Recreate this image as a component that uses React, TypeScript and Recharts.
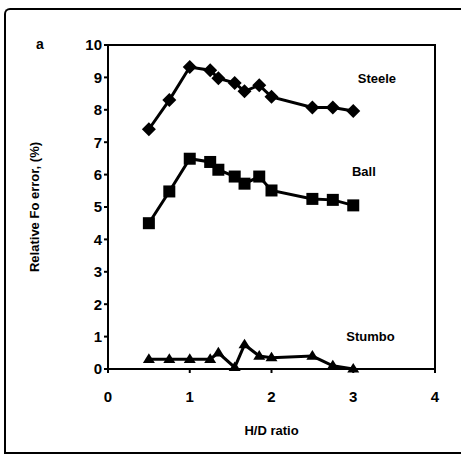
import React from "react";
import {
  LineChart,
  Line,
  XAxis,
  YAxis,
  ReferenceDot,
  ReferenceArea,
} from "recharts";

const hdRatio = [0.5, 0.75, 1.0, 1.25, 1.35, 1.55, 1.67, 1.85, 2.0, 2.5, 2.75, 3.0];
const steele = [7.4, 8.3, 9.32, 9.22, 8.97, 8.83, 8.57, 8.76, 8.4, 8.07, 8.07, 7.96];
const ball = [4.5, 5.48, 6.49, 6.39, 6.15, 5.94, 5.72, 5.94, 5.51, 5.25, 5.22, 5.05];
const stumbo = [0.3, 0.3, 0.3, 0.3, 0.5, 0.05, 0.75, 0.4, 0.35, 0.4, 0.1, 0.0];

const xTicks = [0, 1, 2, 3, 4];
const yTicks = [0, 1, 2, 3, 4, 5, 6, 7, 8, 9, 10];

const data = hdRatio.map((x, i) => ({
  x,
  steele: steele[i],
  ball: ball[i],
  stumbo: stumbo[i],
}));

const FONT = "'Liberation Sans', Arial, sans-serif";

function Diamond(props: any) {
  const { cx, cy, index } = props;
  const r = 7;
  return (
    <polygon
      key={`d${index}`}
      points={`${cx},${cy - r} ${cx + r},${cy} ${cx},${cy + r} ${cx - r},${cy}`}
      fill="#000"
    />
  );
}

function Square(props: any) {
  const { cx, cy, index } = props;
  const s = 6;
  return <rect key={`s${index}`} x={cx - s} y={cy - s} width={s * 2} height={s * 2} fill="#000" />;
}

function Triangle(props: any) {
  const { cx, cy, index } = props;
  const r = 6;
  return (
    <polygon
      key={`t${index}`}
      points={`${cx},${cy - r} ${cx + r},${cy + r * 0.6} ${cx - r},${cy + r * 0.6}`}
      fill="#000"
    />
  );
}

const seriesLabel = (text: string) => ({
  value: text,
  position: "center" as const,
  fill: "#000",
  fontSize: 13,
  fontWeight: 700,
  fontFamily: FONT,
});

export default function App() {
  return (
    <div
      style={{
        position: "absolute",
        left: 0,
        top: 0,
        width: 461,
        height: 454,
        background: "#fff",
      }}
    >
      <div
        style={{
          position: "absolute",
          left: 4,
          top: 8,
          width: 470,
          height: 442,
          borderLeft: "2px solid #000",
          borderTop: "2px solid #000",
          borderBottom: "2px solid #000",
          borderTopLeftRadius: 6,
        }}
      />
      <div
        style={{
          position: "absolute",
          left: 36,
          top: 36,
          fontFamily: FONT,
          fontWeight: 700,
          fontSize: 14,
        }}
      >
        a
      </div>
      <div style={{ position: "absolute", left: 0, top: 0 }}>
        <LineChart
          width={461}
          height={454}
          data={data}
          margin={{ top: 45, right: 26, bottom: 25, left: 0 }}
        >
          <XAxis
            dataKey="x"
            type="number"
            domain={[0, 4]}
            ticks={xTicks}
            height={60}
            stroke="#000"
            strokeWidth={2}
            tickSize={4}
            tick={{ fill: "#000", fontSize: 15, fontWeight: 700, fontFamily: FONT, dy: 16 }}
            label={{
              value: "H/D ratio",
              position: "insideBottom",
              offset: -6,
              fill: "#000",
              fontSize: 13,
              fontWeight: 700,
              fontFamily: FONT,
            }}
          />
          <YAxis
            type="number"
            domain={[0, 10]}
            ticks={yTicks}
            width={108}
            stroke="#000"
            strokeWidth={2}
            tickSize={4}
            tick={{ fill: "#000", fontSize: 15, fontWeight: 700, fontFamily: FONT }}
            label={{
              value: "Relative Fo error, (%)",
              angle: -90,
              position: "insideLeft",
              offset: 34,
              fill: "#000",
              fontSize: 13,
              fontWeight: 700,
              fontFamily: FONT,
              style: { textAnchor: "middle" },
            }}
          />
          <ReferenceArea
            x1={0}
            x2={4}
            y1={0}
            y2={10}
            fill="none"
            stroke="#000"
            strokeWidth={2}
            fillOpacity={0}
          />
          <Line
            dataKey="steele"
            stroke="#000"
            strokeWidth={3}
            dot={Diamond}
            isAnimationActive={false}
          />
          <Line
            dataKey="ball"
            stroke="#000"
            strokeWidth={3}
            dot={Square}
            isAnimationActive={false}
          />
          <Line
            dataKey="stumbo"
            stroke="#000"
            strokeWidth={3}
            dot={Triangle}
            isAnimationActive={false}
          />
          <ReferenceDot x={3.29} y={8.98} r={0} stroke="none" label={seriesLabel("Steele")} />
          <ReferenceDot x={3.13} y={6.1} r={0} stroke="none" label={seriesLabel("Ball")} />
          <ReferenceDot x={3.21} y={1.02} r={0} stroke="none" label={seriesLabel("Stumbo")} />
        </LineChart>
      </div>
    </div>
  );
}
